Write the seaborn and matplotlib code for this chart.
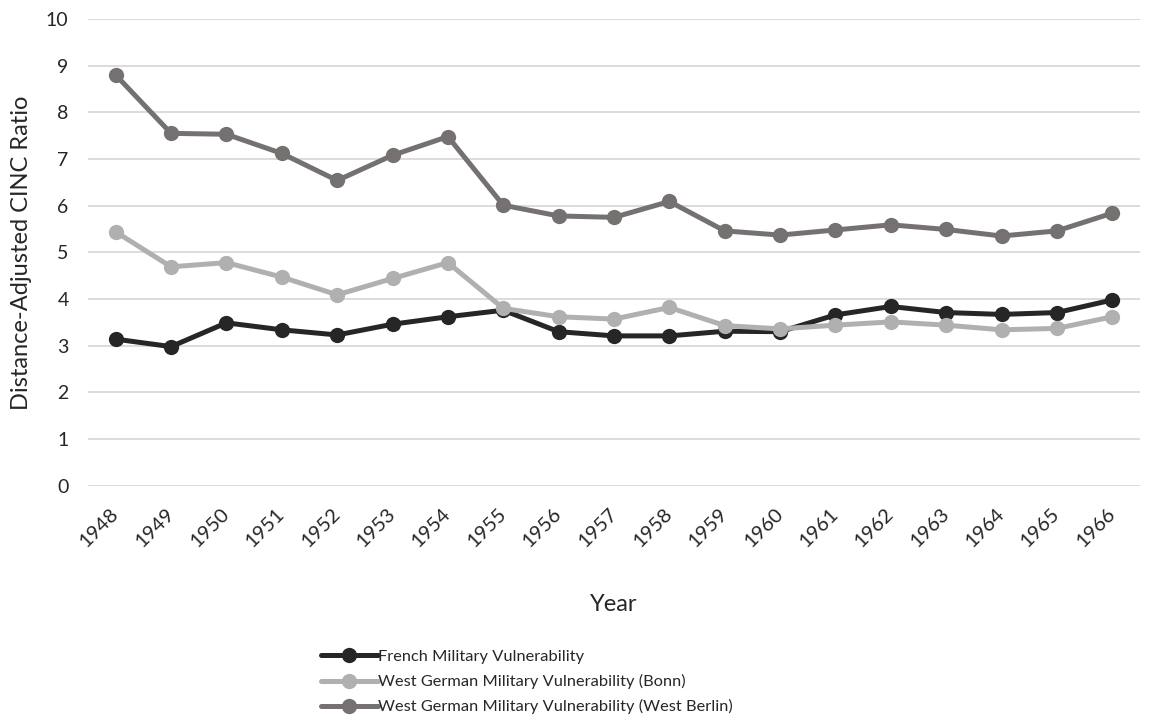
import numpy as np
import pandas as pd
import matplotlib
matplotlib.use("Agg")
import matplotlib.pyplot as plt
import seaborn as sns

years = [str(y) for y in range(1948, 1967)]

french = [3.14, 2.98, 3.49, 3.34, 3.23, 3.46, 3.62, 3.76, 3.30, 3.21,
          3.21, 3.31, 3.30, 3.66, 3.84, 3.71, 3.67, 3.71, 3.98]
bonn = [5.44, 4.69, 4.78, 4.47, 4.09, 4.44, 4.78, 3.80, 3.62, 3.57,
        3.82, 3.43, 3.36, 3.44, 3.51, 3.44, 3.34, 3.37, 3.62]
berlin = [8.80, 7.55, 7.53, 7.12, 6.54, 7.08, 7.48, 6.01, 5.78, 5.75,
          6.09, 5.46, 5.37, 5.48, 5.59, 5.49, 5.35, 5.46, 5.84]

series_names = ["French Military Vulnerability",
                "West German Military Vulnerability (Bonn)",
                "West German Military Vulnerability (West Berlin)"]
colors = ["#262626", "#B0B0B0", "#767171"]

# long form table for seaborn
df = pd.DataFrame({
    "Year": years * 3,
    "value": french + bonn + berlin,
    "series": np.repeat(series_names, len(years)),
})

sns.set_theme(style="white")
plt.rcParams["font.family"] = ["Lato", "DejaVu Sans"]

fig = plt.figure(figsize=(11.56, 7.28), dpi=100)
ax = fig.add_axes([88 / 1156, 1 - 485.7 / 728, (1140 - 88) / 1156, (485.7 - 19) / 728])

sns.lineplot(data=df, x="Year", y="value", hue="series", hue_order=series_names,
             palette=colors, marker="o", markersize=11, markeredgewidth=0,
             linewidth=3.6, sort=False, ax=ax)

ax.set_ylim(0, 10)
ax.set_xlim(-0.5, len(years) - 0.5)
ax.set_yticks(range(0, 11))
ax.yaxis.grid(True, color="#D9D9D9", linewidth=1.3)
ax.set_axisbelow(True)
for s in ax.spines.values():
    s.set_visible(False)
ax.tick_params(axis="both", length=0, labelsize=14, colors="#262626")
ax.tick_params(axis="x", labelsize=14.5)
ax.tick_params(axis="y", pad=14)
ax.tick_params(axis="x", pad=18)
plt.setp(ax.get_xticklabels(), rotation=45, ha="right", va="center", rotation_mode="anchor")

ax.set_xlabel("Year", fontsize=17, color="#262626", labelpad=32)
ax.set_ylabel("Distance-Adjusted CINC Ratio", fontsize=17, color="#262626", labelpad=10)

handles, labels = ax.get_legend_handles_labels()
ax.get_legend().remove()
fig.legend(handles, labels, loc="upper left", bbox_to_anchor=(314 / 1156, 1 - 643 / 728),
           frameon=False, fontsize=11.8, handlelength=3.5, handletextpad=0.0,
           labelspacing=0.62, borderaxespad=0, labelcolor="#262626")

fig.savefig("out.png", dpi=100)
